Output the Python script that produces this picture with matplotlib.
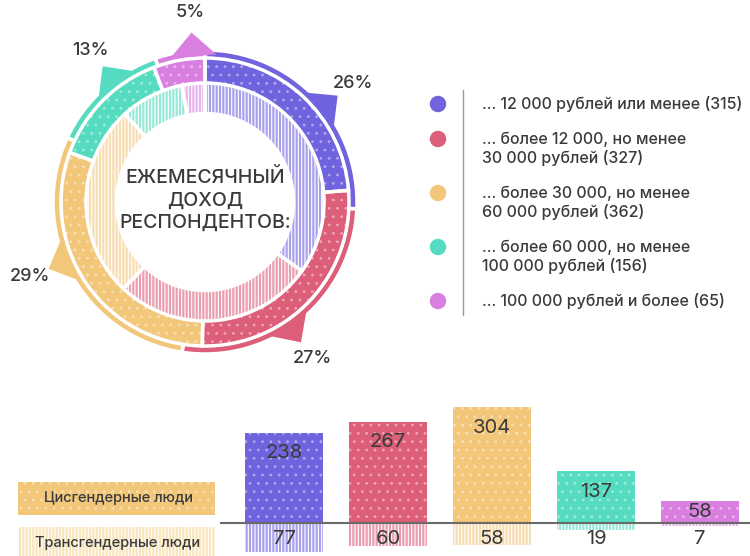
import numpy as np
import matplotlib
matplotlib.use("Agg")
import matplotlib.pyplot as plt
from matplotlib.patches import Polygon, Rectangle
from matplotlib.colors import to_rgb

plt.rcParams['font.family'] = ['Inter', 'DejaVu Sans']
plt.rcParams['hatch.linewidth'] = 0.8

## data
legend_labels = ['... 12 000 рублей или менее (315)',
                 '... более 12 000, но менее\n30 000 рублей (327)',
                 '... более 30 000, но менее\n60 000 рублей (362)',
                 '... более 60 000, но менее\n100 000 рублей (156)',
                 '... 100 000 рублей и более (65)']
total = [315, 327, 362, 156, 65]
cis = [238, 267, 304, 137, 58]
trans = [77, 60, 58, 19, 7]
pct_labels = ['26%', '27%', '29%', '13%', '5%']
colors = ['#6f63de', '#dc5e78', '#f2c77a', '#55dbbf', '#d97fe0']
TXT = '#3a3a3a'


def mix(c, f):
    r, g, b = to_rgb(c)
    return (r + (1 - r) * f, g + (1 - g) * f, b + (1 - b) * f)


dot_cols = [mix(c, 0.45) for c in colors]
light = [mix(c, 0.4) for c in colors]

fig = plt.figure(figsize=(7.5, 5.56), dpi=100)

## donut
dax = fig.add_axes([5/750, 154/556, 400/750, 400/556])


def ring(values, radius, width, faces, hatch, hcols):
    wedges = dax.pie(values, radius=radius, startangle=90, counterclock=False,
                     colors=faces, wedgeprops=dict(width=width, linewidth=0))[0]
    for w, hc in zip(wedges, hcols):
        if hatch:
            w.set_hatch(hatch)
            w.set_edgecolor(hc)
    dax.pie(values, radius=radius, startangle=90, counterclock=False,
            wedgeprops=dict(width=width, facecolor='none', edgecolor='white', linewidth=2.5))
    return wedges


thin = ring(total, 152, 8.5, colors, None, colors)
ring(cis, 144, 25.5, colors, '..', dot_cols)
ring(trans, 119, 30.5, light, '|||||', ['white']*5)

# pointers sit a little clockwise of each segment's middle
for w, lab, c in zip(thin, pct_labels, colors):
    mid = np.deg2rad((w.theta1 + w.theta2) / 2 - 5)
    d = np.deg2rad(9)
    pts = [(148*np.cos(mid - d), 148*np.sin(mid - d)),
           (170*np.cos(mid), 170*np.sin(mid)),
           (148*np.cos(mid + d), 148*np.sin(mid + d))]
    dax.add_patch(Polygon(pts, closed=True, facecolor=c, edgecolor='none', zorder=5))
    dax.text(190*np.cos(mid), 190*np.sin(mid), lab, ha='center', va='center',
             fontsize=13, color=TXT, weight='medium')

dax.text(0, 2, 'ЕЖЕМЕСЯЧНЫЙ\nДОХОД\nРЕСПОНДЕНТОВ:', ha='center', va='center',
         fontsize=14, color=TXT, linespacing=1.3, weight='medium')
dax.set_xlim(-200, 200)
dax.set_ylim(-200, 200)
dax.axis('off')

## overlay in pixel coords: legend + row labels
ov = fig.add_axes([0, 0, 1, 1], zorder=-1)
ov.set_xlim(0, 750)
ov.set_ylim(556, 0)
ov.axis('off')

y = 104
for lab, c in zip(legend_labels, colors):
    ov.scatter(438, y, s=140, color=c, edgecolor='none')
    for i, line in enumerate(lab.split('\n')):
        ov.text(482, y + i*19, line, ha='left', va='center', fontsize=11.5,
                color=TXT, weight='medium')
    y += 35 + 19 * (len(lab.split('\n')) - 1)
ov.plot([463, 463], [90, 315], color='#9a9a9a', lw=1)

ov.add_patch(Rectangle((18, 482), 197, 33, facecolor='#f2c77a', edgecolor=mix('#f2c77a', 0.45),
                       hatch='..', linewidth=0))
ov.add_patch(Rectangle((18, 527), 197, 30, facecolor='#f9e5bb', edgecolor='white',
                       hatch='|||||', linewidth=0))
ov.text(118, 498, 'Цисгендерные люди', ha='center', va='center', fontsize=10.5,
        color=TXT, weight='medium')
ov.text(118, 543, 'Трансгендерные люди', ha='center', va='center', fontsize=10.5,
        color=TXT, weight='medium')

## bars
bax = fig.add_axes([0, 0, 1, 161/556])
s = 0.38
x = np.arange(len(cis))
bax.set_xlim(-284/104, 466/104)
bax.set_ylim(-33/s, 128/s)
bax.bar(x, cis, width=0.75, color=colors, edgecolor=dot_cols, hatch='..', linewidth=0)
bax.bar(x, [-t for t in trans], width=0.75, color=light, edgecolor='white',
        hatch='|||||', linewidth=0)
bax.hlines(0, -64/104, 466/104, color='#6a6a6a', lw=1.5, zorder=5)
for xi, v in zip(x, cis):
    bax.text(xi, max(v - 55, v/2), str(v), ha='center', va='center', fontsize=14.5, color=TXT)
for xi, v in zip(x, trans):
    bax.text(xi, -41, str(v), ha='center', va='center', fontsize=14.5, color=TXT)
bax.axis('off')

fig.savefig('out.png', dpi=100)
